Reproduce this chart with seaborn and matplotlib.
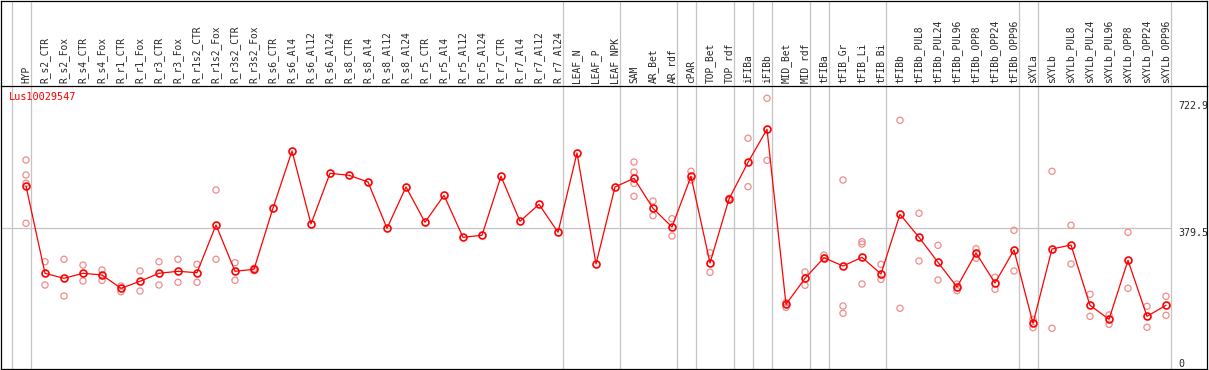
import matplotlib
matplotlib.use("Agg")
import matplotlib.pyplot as plt
import seaborn as sns
import pandas as pd

# ---------------- data ----------------
samples = ["HYP", "R_s2_CTR", "R_s2_Fox", "R_s4_CTR", "R_s4_Fox", "R_r1_CTR", "R_r1_Fox",
           "R_r3_CTR", "R_r3_Fox", "R_r1s2_CTR", "R_r1s2_Fox", "R_r3s2_CTR", "R_r3s2_Fox",
           "R_s6_CTR", "R_s6_Al4", "R_s6_Al12", "R_s6_Al24", "R_s8_CTR", "R_s8_Al4", "R_s8_Al12",
           "R_s8_Al24", "R_r5_CTR", "R_r5_Al4", "R_r5_Al12", "R_r5_Al24", "R_r7_CTR", "R_r7_Al4",
           "R_r7_Al12", "R_r7_Al24", "LEAF_N", "LEAF_P", "LEAF_NPK", "SAM", "AR_Bet", "AR_rdf",
           "cPAR", "TOP_Bet", "TOP_rdf", "iFIBa", "iFIBb", "MID_Bet", "MID_rdf", "tFIBa",
           "tFIB_Gr", "tFIB_Li", "tFIB_Bi", "tFIBb", "tFIBb_PUL8", "tFIBb_PUL24", "tFIBb_PUL96",
           "tFIBb_OPP8", "tFIBb_OPP24", "tFIBb_OPP96", "sXYLa", "sXYLb", "sXYLb_PUL8",
           "sXYLb_PUL24", "sXYLb_PUL96", "sXYLb_OPP8", "sXYLb_OPP24", "sXYLb_OPP96"]

mean_values = [493.4, 258.4, 244.9, 258.4, 253.8, 218.0, 236.9, 258.4, 263.8, 260.0, 388.4,
               263.8, 269.2, 434.1, 587.6, 391.1, 527.5, 522.2, 504.1, 379.5, 490.7, 395.7,
               468.3, 355.3, 360.7, 519.5, 398.3, 444.1, 368.7, 582.2, 283.4, 490.7, 514.1,
               433.3, 383.0, 519.5, 286.1, 458.4, 557.1, 646.0, 174.9, 244.9, 300.4, 278.0,
               301.4, 256.5, 417.2, 355.3, 288.0, 221.5, 313.0, 232.3, 321.1, 123.8, 323.8,
               334.6, 172.3, 134.6, 293.4, 142.6, 172.3]

replicate_values = [
    [563.3, 523.0, 500.6, 393.0], [289.6, 226.9], [296.1, 197.3], [280.7, 237.7],
    [267.3, 239.5], [224.2, 208.9], [264.6, 210.7], [289.6, 226.9], [296.1, 234.2],
    [282.6, 234.2], [482.6, 296.1], [286.9, 239.5], [271.8, 265.4],
    [], [], [], [], [], [], [], [], [], [], [], [], [], [], [], [], [], [], [],
    [557.9, 531.0, 500.6, 465.6], [453.0, 413.4], [405.3, 358.8], [532.9, 509.5],
    [313.8, 261.1], [460.2, 455.7], [621.7, 491.5], [729.4, 562.5], [179.3, 166.9],
    [261.9, 226.1], [307.6, 298.8], [509.5, 170.4, 150.7], [343.4, 337.2, 229.6],
    [282.6, 242.2], [670.2, 164.2], [419.9, 291.5], [333.7, 240.3], [229.6, 211.6],
    [324.6, 298.8], [247.6, 215.3], [374.1, 264.6], [134.6, 112.0], [532.9, 110.4],
    [387.6, 283.4], [201.9, 142.6], [146.1, 121.1], [368.7, 218.0], [169.6, 113.0],
    [196.5, 145.3]]

# group separators sit just after these sample indices (-1 = before the first)
group_ends = [-1, 0, 28, 31, 34, 35, 37, 38, 39, 41, 42, 45, 52, 53, 60]

y_ticks = [0, 379.5, 722.9]
y_tick_labels = ["0", "379.5", "722.9"]
gene_name = "Lus10029547"

# ---------------- frames ----------------
mean_df = pd.DataFrame({"pos": range(len(samples)), "value": mean_values})
rep_rows = [(i, v) for i, reps in enumerate(replicate_values) for v in reps]
rep_df = pd.DataFrame(rep_rows, columns=["pos", "value"])

# ---------------- style ----------------
sns.set_theme(style="white")
plt.rcParams["font.family"] = ["DejaVu Sans Mono", "DejaVu Sans"]

W, H = 1209, 370
fig = plt.figure(figsize=(W / 100, H / 100), dpi=100)
fig.patch.set_facecolor("white")

top_px, bot_px, left_px, right_px = 85.7, 369.3, 1.0, 1207.0
ax = fig.add_axes([left_px / W, 1 - bot_px / H, (right_px - left_px) / W, (bot_px - top_px) / H])
hax = fig.add_axes([left_px / W, 1 - top_px / H, (right_px - left_px) / W, (top_px - 0.5) / H])
hax.patch.set_visible(False)

step = 19.0
x0_px = 26.0
x_lo = (left_px - x0_px) / step
x_hi = (right_px - x0_px) / step
ymax = (bot_px - top_px) * 379.5 / (bot_px - 228.3)

gray = "#c4c4c4"
for a in (ax, hax):
    a.set_xlim(x_lo, x_hi)
    for g in group_ends:
        a.axvline(g + 0.25, color=gray, lw=0.9, zorder=0)
    for s in a.spines.values():
        s.set_color("black")
        s.set_linewidth(0.9)
hax.set_ylim(0, 1)
hax.set_xticks([])
hax.set_yticks([])
hax.spines["bottom"].set_visible(False)

ax.set_ylim(0, ymax)
ax.hlines(379.5, x_lo, group_ends[-1] + 0.25, color=gray, lw=0.9, zorder=0)

# replicates
sns.scatterplot(data=rep_df, x="pos", y="value", ax=ax, marker="o", s=20,
                facecolors="none", edgecolor="#ee8c8c", linewidth=0.9, zorder=2, legend=False)
# means
sns.lineplot(data=mean_df, x="pos", y="value", ax=ax, sort=False, color="#ff0000",
             lw=0.9, marker="o", markersize=5, markerfacecolor="none",
             markeredgecolor="#ff0000", markeredgewidth=1.2, zorder=3, legend=False)

ax.set_xlabel("")
ax.set_ylabel("")
ax.xaxis.tick_top()
ax.set_xticks(range(len(samples)))
ax.set_xticklabels(samples, rotation=90, fontsize=6.9, family="DejaVu Sans Mono")
ax.tick_params(axis="x", length=0, pad=2)

ax.yaxis.tick_right()
ax.set_yticks(y_ticks)
ax.set_yticklabels(y_tick_labels, fontsize=7.2, family="DejaVu Sans Mono")
ax.tick_params(axis="y", length=0, pad=-(right_px - 1178.7) * 0.72)
for lbl in ax.get_yticklabels():
    lbl.set_va("bottom" if lbl.get_text() == "0" else "top")

ax.text((9.3 - left_px) / (right_px - left_px), (bot_px - 92) / (bot_px - top_px), gene_name,
        transform=ax.transAxes, color="#ff0000", fontsize=7.4, va="top", ha="left",
        family="DejaVu Sans Mono")

fig.savefig("out.png", dpi=100)
